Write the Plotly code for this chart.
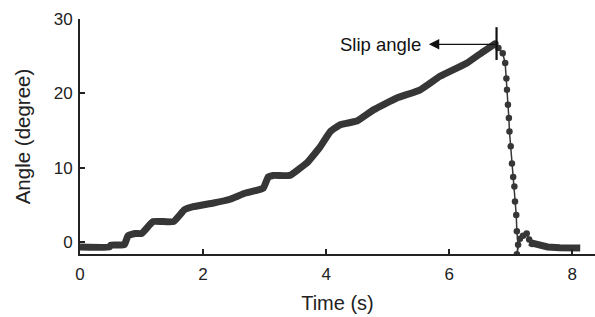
import plotly.graph_objects as go

# Dense (continuous-looking) part of the record: time (s) and angle (degree)
rise_time = [0, 0.48, 0.5, 0.72, 0.78, 0.9, 1.0, 1.19, 1.52, 1.7, 1.84, 2.17, 2.44, 2.68,
             2.87, 2.98, 3.06, 3.14, 3.41, 3.58, 3.69, 3.9, 4.07, 4.23, 4.5, 4.77, 5.15,
             5.53, 5.85, 6.29, 6.55, 6.75]
rise_angle = [-0.6, -0.6, -0.35, -0.3, 0.9, 1.2, 1.2, 2.8, 2.8, 4.4, 4.8, 5.3, 5.8, 6.6,
              7.0, 7.3, 8.8, 9.0, 9.0, 10.0, 10.7, 12.8, 14.9, 15.8, 16.3, 17.8, 19.4,
              20.5, 22.3, 24.1, 25.6, 26.7]

# Sparse sampled points after slip
drop_time = [6.75, 6.8, 6.87, 6.91, 6.93, 6.94, 6.955, 6.97, 6.98, 7.0, 7.02, 7.04, 7.06,
             7.07, 7.09, 7.1, 7.12, 7.1, 7.15, 7.2, 7.26, 7.3, 7.35]
drop_angle = [26.7, 26.1, 25.4, 24.1, 22.0, 20.5, 18.5, 16.7, 14.9, 12.9, 10.6, 8.8, 7.5,
              5.5, 3.7, 1.5, -0.3, -1.6, 0.5, 0.9, 1.2, 0.4, -0.2]

# Dense tail after sliding stopped
tail_time = [7.3, 7.45, 7.6, 7.8, 8.13]
tail_angle = [0.0, -0.4, -0.6, -0.7, -0.75]

# Slip angle marker
slip_time = 6.77
slip_angle = 26.6
slip_bar = [24.5, 28.9]
arrow_tip_time = 5.67

x_ticks = [0, 2, 4, 6, 8]
y_ticks = [0, 10, 20, 30]

col = "#363636"
fig = go.Figure()
fig.add_trace(go.Scatter(x=rise_time, y=rise_angle, mode="lines",
                         line=dict(color=col, width=7, shape="spline", smoothing=0.4),
                         hoverinfo="skip"))
fig.add_trace(go.Scatter(x=tail_time, y=tail_angle, mode="lines",
                         line=dict(color=col, width=7), hoverinfo="skip"))
fig.add_trace(go.Scatter(x=drop_time, y=drop_angle, mode="lines+markers",
                         line=dict(color=col, width=1.5),
                         marker=dict(color=col, size=6.5)))

fig.add_shape(type="line", x0=slip_time, x1=slip_time, y0=slip_bar[0], y1=slip_bar[1],
              xref="x", yref="y", line=dict(color="#111111", width=2.2))
fig.add_annotation(x=arrow_tip_time, y=slip_angle, ax=slip_time, ay=slip_angle,
                   xref="x", yref="y", axref="x", ayref="y", text="",
                   showarrow=True, arrowhead=2, arrowsize=1.6, arrowwidth=1.3,
                   arrowcolor="#111111")
fig.add_annotation(x=arrow_tip_time - 0.09, y=slip_angle, xref="x", yref="y",
                   text="Slip angle", showarrow=False, xanchor="right", yanchor="middle",
                   font=dict(size=18.5, color="#111111"))

font_family = "Liberation Sans, Arial, sans-serif"
fig.update_layout(
    width=595, height=317,
    margin=dict(l=80, r=0, t=19, b=63),
    paper_bgcolor="white", plot_bgcolor="white",
    showlegend=False,
    font=dict(family=font_family, color="#222222"),
)
fig.update_xaxes(range=[0, 8.37], tickvals=x_ticks, ticks="inside", ticklen=5,
                 tickwidth=1.5, tickcolor="#222222", showline=True, linecolor="#222222",
                 linewidth=1.8, showgrid=False, zeroline=False, automargin=False,
                 tickfont=dict(size=17), ticklabelstandoff=4,
                 title=dict(text="Time (s)", font=dict(size=20), standoff=13))
fig.update_yaxes(range=[-1.55, 30], tickvals=y_ticks, ticks="inside", ticklen=5,
                 tickwidth=1.5, tickcolor="#222222", showline=True, linecolor="#222222",
                 linewidth=1.8, showgrid=False, zeroline=False, automargin=False,
                 tickfont=dict(size=17), ticklabelstandoff=2,
                 title=dict(text="Angle (degree)", font=dict(size=20.5), standoff=18))

fig.write_html("out.html", config={"displayModeBar": False},
               post_script="document.body.style.margin='0';document.body.style.overflow='hidden';")
